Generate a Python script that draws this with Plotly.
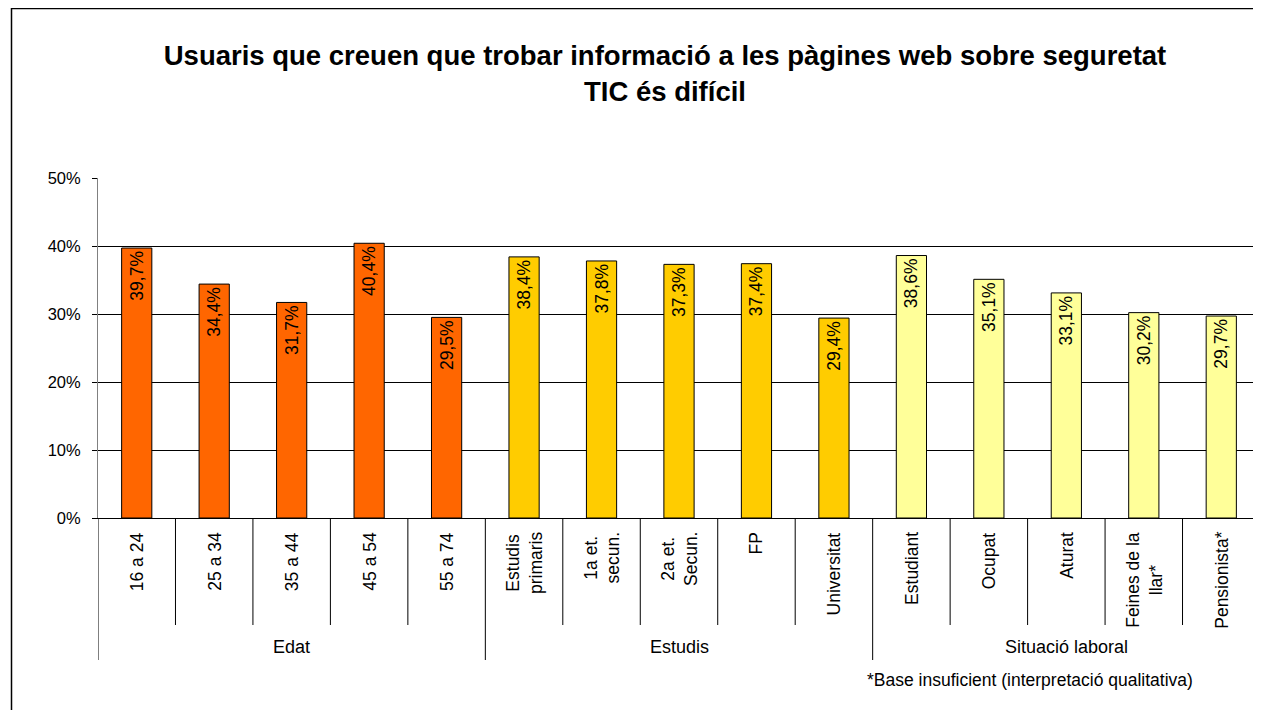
import plotly.graph_objects as go

# ---- data ----
categories = ["16 a 24", "25 a 34", "35 a 44", "45 a 54", "55 a 74",
              "Estudis<br>primaris", "1a et.<br>secun.", "2a et.<br>Secun.", "FP", "Universitat",
              "Estudiant", "Ocupat", "Aturat", "Feines de la<br>llar*", "Pensionista*"]
values = [39.7, 34.4, 31.7, 40.4, 29.5,
          38.4, 37.8, 37.3, 37.4, 29.4,
          38.6, 35.1, 33.1, 30.2, 29.7]
groups = ["Edat"] * 5 + ["Estudis"] * 5 + ["Situació laboral"] * 5
group_names = ["Edat", "Estudis", "Situació laboral"]
group_colors = {"Edat": "#FF6600", "Estudis": "#FFCC00", "Situació laboral": "#FFFF99"}
y_ticks = [0, 10, 20, 30, 40, 50]

title_text = ("<b>Usuaris que creuen que trobar informació a les pàgines web sobre seguretat"
              "<br>TIC és difícil</b>")
footnote = "*Base insuficient (interpretació qualitativa)"

FONT = "Arial, Liberation Sans, sans-serif"
OFF = 8  # page body margin
W, H = 1261 - OFF, 710 - OFF
ML, MR = 98 - OFF, 1
MT = 178 - OFF
MB = H - (518 - OFF)
PW, PH = W - ML - MR, H - MT - MB

def py_(ref_py):
    return (H - MB - (ref_py - OFF)) / PH

def px_(ref_px):
    return ((ref_px - OFF) - ML) / PW

labels_text = [f"{v:.1f}%".replace(".", ",") for v in values]
colors = [group_colors[g] for g in groups]
xcats = [c.replace("<br>", " ") for c in categories]

fig = go.Figure()
fig.add_trace(go.Bar(
    x=xcats, y=values, width=0.39,
    marker=dict(color=colors, line=dict(color="#000000", width=1)),
    text=labels_text, textposition="inside", insidetextanchor="end",
    textangle=-90, insidetextfont=dict(family=FONT, size=17.5, color="#000000"),
    cliponaxis=False, showlegend=False, hoverinfo="x+y",
))

annotations = []
for c, xc in zip(categories, xcats):
    annotations.append(dict(
        x=xc, xref="x", y=py_(530), yref="paper",
        text=c, textangle=-90, showarrow=False, xanchor="center", yanchor="top",
        align="center", font=dict(family=FONT, size=17.5, color="#000000")))
for gname in group_names:
    idx = [i for i, g in enumerate(groups) if g == gname]
    mid = (idx[0] + idx[-1]) / 2
    annotations.append(dict(
        x=mid, xref="x", y=py_(647), yref="paper",
        text=gname, showarrow=False, xanchor="center", yanchor="middle",
        font=dict(family=FONT, size=18, color="#000000")))
annotations.append(dict(
    x=px_(865), xref="paper", y=py_(680), yref="paper",
    text=footnote, showarrow=False, xanchor="left", yanchor="middle",
    font=dict(family=FONT, size=17.5, color="#000000")))

shapes = []
n = len(categories)
for i in range(n + 1):
    pos = i - 0.5
    is_group = i == 0 or i == n or groups[i] != groups[i - 1]
    bottom = 660 if is_group else 625
    shapes.append(dict(type="line", xref="x", yref="paper",
                       x0=pos, x1=pos, y0=0, y1=py_(bottom),
                       line=dict(color="#000000", width=1)))
shapes.append(dict(type="rect", xref="paper", yref="paper",
                   x0=px_(11.5), x1=px_(1285),
                   y0=py_(730), y1=py_(8.5),
                   line=dict(color="#000000", width=1.5), fillcolor="rgba(0,0,0,0)"))

fig.update_layout(
    width=W, height=H,
    margin=dict(l=ML, r=MR, t=MT, b=MB),
    paper_bgcolor="white", plot_bgcolor="white",
    font=dict(family=FONT, color="#000000"),
    title=dict(text=title_text, x=(665 - OFF) / W, xanchor="center",
               y=1 - 57 / H, yanchor="top", yref="container",
               font=dict(family=FONT, size=27.5, color="#000000")),
    xaxis=dict(type="category", categoryorder="array", categoryarray=xcats,
               range=[-0.5, n - 0.5], showticklabels=False, ticks="",
               showline=True, linecolor="#000000", linewidth=1,
               showgrid=False, zeroline=False, fixedrange=True),
    yaxis=dict(range=[0, 50], tickvals=y_ticks,
               ticktext=[f"{t}%" for t in y_ticks],
               ticks="outside", ticklen=5, tickcolor="#000000",
               showline=True, linecolor="#808080", linewidth=1,
               showgrid=True, gridcolor="#000000", gridwidth=1,
               zeroline=False, tickfont=dict(family=FONT, size=16.5, color="#000000"),
               ticklabelstandoff=8),
    annotations=annotations,
    shapes=shapes,
)

fig.write_html("out.html")
